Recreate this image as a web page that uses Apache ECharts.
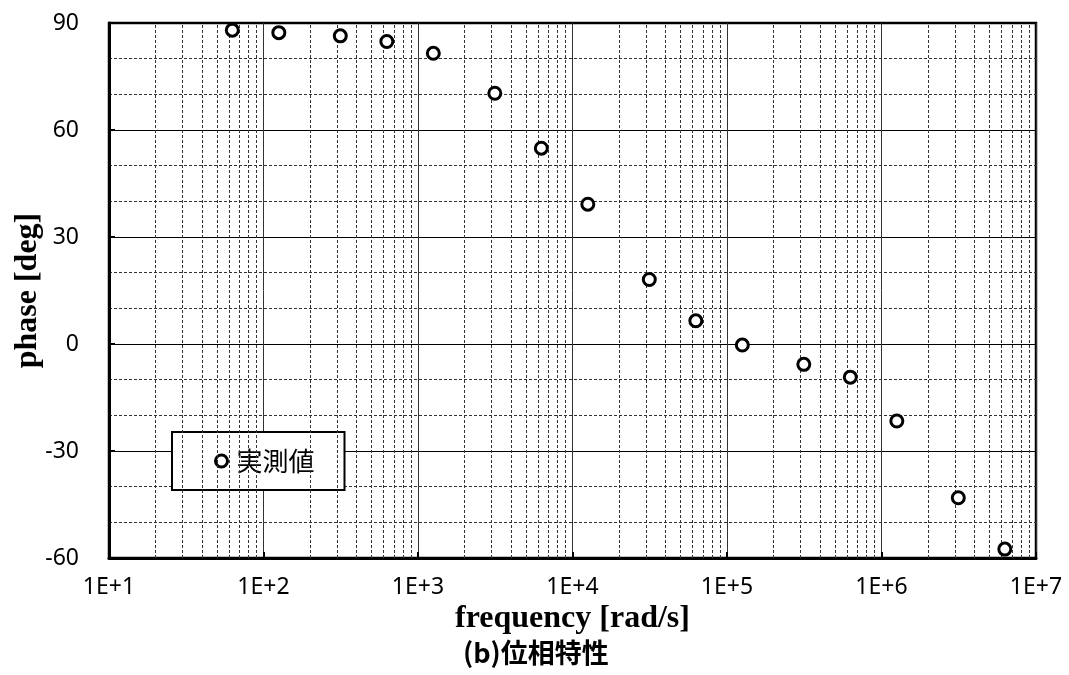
<!DOCTYPE html>
<html>
<head>
<meta charset="utf-8">
<script src="https://cdn.jsdelivr.net/npm/echarts@6/dist/echarts.min.js"></script>
<style>html,body{margin:0;padding:0;background:#fff}#c{width:1069px;height:675px}</style>
</head>
<body>
<div id="c"></div>
<script>
// Data
const frequency = [62.83, 125.66, 314.16, 628.32, 1256.6, 3141.6, 6283.2, 12566, 31416, 62832, 125664, 314159, 628319, 1256637, 3141593, 6283185];
const phase = [88.0, 87.3, 86.4, 84.8, 81.5, 70.3, 54.9, 39.2, 18.1, 6.5, -0.3, -5.7, -9.3, -21.6, -43.1, -57.5];
const seriesName = '実測値';
const xTitle = 'frequency [rad/s]';
const yTitle = 'phase [deg]';
const subTitle = '(b)位相特性';
const decades = [10, 100, 1000, 10000, 100000, 1000000];
const minorSteps = [2, 3, 4, 5, 6, 7, 8, 9];

const minorX = [];
decades.forEach(d => minorSteps.forEach(k => minorX.push({ xAxis: k * d })));

const chart = echarts.init(document.getElementById('c'), null, { renderer: 'canvas' });
const tickFont = { fontFamily: 'Noto Sans', fontSize: 23, color: '#000' };
const titleFont = { fontFamily: 'Liberation Serif', fontSize: 32, fontWeight: 'bold', color: '#000' };

chart.setOption({
  animation: false,
  backgroundColor: '#fff',
  title: {
    text: subTitle, left: 463, top: 639, padding: 0,
    textStyle: { fontFamily: 'Noto Sans CJK JP', fontSize: 27, fontWeight: 'bold', color: '#000' }
  },
  grid: { left: 109, right: 33, top: 23, bottom: 117, containLabel: false, outerBoundsMode: 'none', show: true, borderColor: '#000', borderWidth: 2.5, backgroundColor: 'transparent' },
  legend: {
    data: [seriesName], left: 172, top: 432, orient: 'horizontal',
    backgroundColor: '#fff', borderColor: '#000', borderWidth: 2,
    padding: [16, 30, 16, 42], itemWidth: 12, itemHeight: 12, itemGap: 8,
    itemStyle: { color: '#fff', borderColor: '#000', borderWidth: 3, opacity: 1 },
    textStyle: { fontFamily: 'Noto Sans CJK JP', fontSize: 26, color: '#000', padding: [0, 0, 0, 4] }
  },
  xAxis: {
    type: 'log', logBase: 10, min: 10, max: 10000000,
    name: xTitle, nameLocation: 'middle', nameGap: 45, nameMoveOverlap: false, nameTextStyle: titleFont,
    axisLine: { show: true, onZero: false, lineStyle: { color: '#000', width: 3 } },
    axisTick: { show: true, inside: true, length: 6, lineStyle: { color: '#000', width: 2 } },
    axisLabel: Object.assign({ margin: 18, formatter: v => '1E+' + Math.round(Math.log10(v)) }, tickFont),
    splitLine: { show: true, lineStyle: { color: '#333', width: 1, type: 'solid' } },
    minorTick: { show: false }, minorSplitLine: { show: false }
  },
  yAxis: {
    type: 'value', min: -60, max: 90, interval: 30,
    name: yTitle, nameLocation: 'middle', nameGap: 65, nameMoveOverlap: false, nameRotate: 90, nameTextStyle: titleFont,
    axisLine: { show: true, onZero: false, lineStyle: { color: '#000', width: 3 } },
    axisTick: { show: true, inside: true, length: 6, lineStyle: { color: '#000', width: 2 } },
    axisLabel: Object.assign({ margin: 30 }, tickFont),
    splitLine: { show: true, lineStyle: { color: '#000', width: 1, type: 'solid' } },
    minorTick: { show: false, splitNumber: 3 },
    minorSplitLine: { show: true, lineStyle: { color: '#333', width: 1, type: [3, 2] } }
  },
  series: [
    {
      name: 'minor-grid', type: 'line', data: [], z: 1, silent: true,
      markLine: {
        silent: true, symbol: ['none', 'none'], label: { show: false },
        lineStyle: { color: '#333', width: 1, type: [3, 2] },
        emphasis: { disabled: true },
        data: minorX
      }
    },
    {
      name: seriesName, type: 'scatter', z: 5,
      data: frequency.map((f, i) => [f, phase[i]]),
      symbol: 'circle', symbolSize: 12,
      itemStyle: { color: '#fff', borderColor: '#000', borderWidth: 3, opacity: 1 }
    }
  ]
});
</script>
</body>
</html>
